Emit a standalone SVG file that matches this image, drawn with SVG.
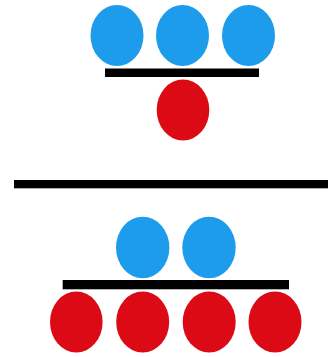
<svg xmlns="http://www.w3.org/2000/svg" width="328" height="357" viewBox="0 0 328 357">
<style>
.b{fill:#1E9CEC}
.r{fill:#DC0A14}
.bar{fill:#000}
</style>
<rect width="328" height="357" fill="#fff"/>
<g id="top-blue">
<ellipse class="b" cx="117" cy="35.5" rx="26.5" ry="30.5"/>
<ellipse class="b" cx="182.5" cy="35.5" rx="26.5" ry="30.5"/>
<ellipse class="b" cx="248.5" cy="35.5" rx="26.5" ry="30.5"/>
</g>
<g id="top-bar"><rect class="bar" x="105" y="68.5" width="154" height="8.5"/></g>
<g id="top-red"><ellipse class="r" cx="183" cy="110" rx="26.3" ry="30.5"/></g>
<g id="divider"><rect class="bar" x="14" y="180" width="314" height="8.3"/></g>
<g id="bottom-blue">
<ellipse class="b" cx="142.7" cy="247.5" rx="26.7" ry="30.8"/>
<ellipse class="b" cx="209" cy="247.5" rx="26.7" ry="30.8"/>
</g>
<g id="bottom-bar"><rect class="bar" x="62.7" y="280" width="226.3" height="9.3"/></g>
<g id="bottom-red">
<ellipse class="r" cx="76.3" cy="322" rx="26.3" ry="30.5"/>
<ellipse class="r" cx="142.7" cy="322" rx="26.5" ry="30.5"/>
<ellipse class="r" cx="209.2" cy="322" rx="26.5" ry="30.5"/>
<ellipse class="r" cx="275" cy="322" rx="26.5" ry="30.5"/>
</g>
</svg>
